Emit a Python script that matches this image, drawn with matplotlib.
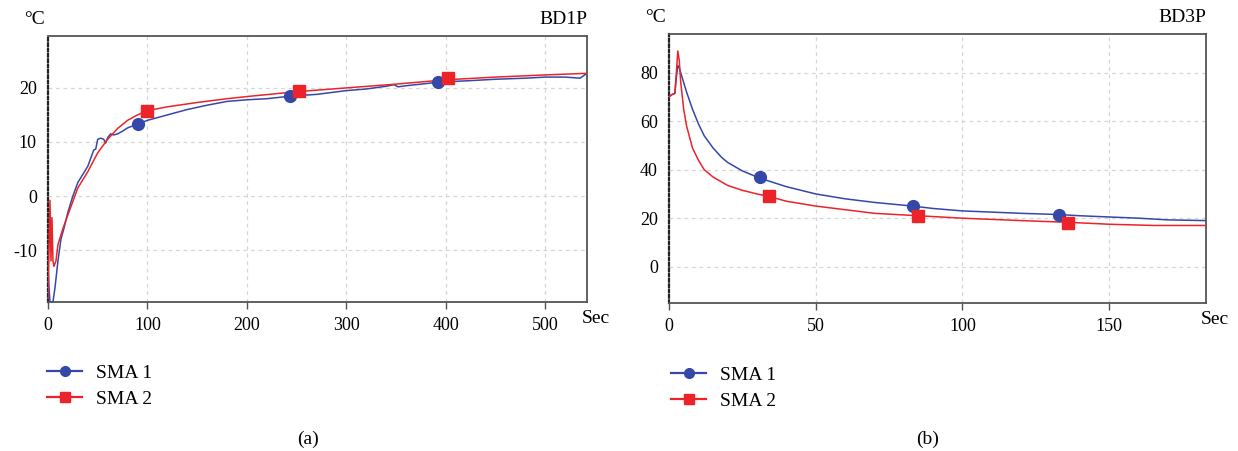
import numpy as np
import matplotlib
matplotlib.use('Agg')
import matplotlib.pyplot as plt
from matplotlib.lines import Line2D

plt.rcParams['font.family'] = ['Liberation Serif', 'DejaVu Serif']
plt.rcParams['axes.unicode_minus'] = False

# panel (a) BD1P
a_sma1_x = [0, 1, 2, 3, 5, 7, 10, 13, 16, 20, 25, 30, 35, 40, 44, 46, 48, 50, 53, 56, 58, 60, 63, 66,
            70, 75, 80, 90, 100, 120, 140, 160, 180, 200, 220, 245, 270, 300, 320, 340, 348, 352, 360,
            380, 395, 420, 450, 480, 500, 520, 535, 542]
a_sma1_y = [-13, -17, -19.6, -19.6, -19.6, -17, -12, -8, -6, -3, 0, 2.5, 4, 5.5, 7.5, 8.5, 8.7, 10.5,
            10.7, 10.5, 9.8, 10.8, 11.5, 11.3, 11.5, 12, 12.6, 13.3, 14, 15, 16, 16.8, 17.5, 17.8, 18,
            18.5, 18.8, 19.5, 19.8, 20.3, 20.6, 20.2, 20.4, 20.8, 21.1, 21.3, 21.6, 21.8, 22, 22, 21.8, 22.7]
a_sma2_x = [0, 1, 2, 3, 4, 5, 6, 8, 10, 15, 20, 25, 30, 40, 50, 60, 70, 80, 90, 100, 120, 150, 180,
            200, 250, 300, 350, 400, 450, 500, 542]
a_sma2_y = [-19, -10, -0.8, -12, -4, -12, -13, -12, -9, -6, -3.5, -1, 1.5, 4.5, 8, 10.5, 12.5, 14,
            15, 15.8, 16.5, 17.3, 18, 18.4, 19.3, 20, 20.7, 21.5, 22, 22.4, 22.7]
a_mk1_x = [90, 243, 392]
a_mk1_y = [13.3, 18.5, 21.1]
a_mk2_x = [100, 252, 402]
a_mk2_y = [15.8, 19.4, 21.8]

# panel (b) BD3P
b_sma1_x = [0, 1, 2, 2.5, 3, 3.5, 4, 5, 6, 8, 10, 12, 15, 18, 20, 25, 31, 40, 50, 60, 70, 83, 90,
            100, 110, 120, 133, 140, 150, 160, 170, 183]
b_sma1_y = [70, 71, 71.5, 78, 83, 82, 80, 76, 72, 65, 59, 54, 49, 45, 43, 39.5, 36.5, 33, 30, 28,
            26.5, 25, 24, 23, 22.5, 22, 21.5, 21, 20.5, 20, 19.3, 19]
b_sma2_x = [0, 1, 2, 2.5, 3, 3.5, 4, 5, 6, 8, 10, 12, 15, 20, 25, 30, 34, 40, 50, 60, 70, 85, 100,
            120, 136, 150, 165, 183]
b_sma2_y = [70, 71, 71.5, 80, 89, 85, 76, 65, 58, 49, 44, 40, 37, 33.5, 31.5, 30, 29, 27, 25, 23.5,
            22, 21, 20, 19, 18.3, 17.5, 17, 17]
b_mk1_x = [31, 83, 133]
b_mk1_y = [36.8, 25, 21.5]
b_mk2_x = [34, 85, 136]
b_mk2_y = [29, 21, 18.2]

labels = ['SMA 1', 'SMA 2']
blue = '#3548a8'
red = '#ec2328'
W, H = 1238, 451

fig = plt.figure(figsize=(W / 100, H / 100), dpi=100)


def panel(rect, xs, ys, mks, xlim, ylim, xticks, yticks, title, caption, leg_xy):
    ax = fig.add_axes(rect)
    ax.plot(xs[0], ys[0], color=blue, lw=1.1, zorder=3)
    ax.plot(xs[1], ys[1], color=red, lw=1.1, zorder=3)
    ax.plot(mks[0][0], mks[0][1], 'o', color=blue, ms=8.5, zorder=4)
    ax.plot(mks[1][0], mks[1][1], 's', color=red, ms=8, zorder=4)
    ax.set_xlim(*xlim)
    ax.set_ylim(*ylim)
    ax.set_xticks(xticks)
    ax.set_yticks(yticks)
    ax.tick_params(axis='x', length=5, width=1, color='#555555', pad=6, labelsize=13)
    ax.tick_params(axis='y', length=0, pad=8, labelsize=13)
    for t in xticks[1:]:
        ax.axvline(t, color='#d6d6d6', lw=0.9, ls=(0, (3, 3)), zorder=1)
    for t in yticks:
        ax.axhline(t, color='#d6d6d6', lw=0.9, ls=(0, (3, 3)), zorder=1)
    for s in ['top', 'right', 'bottom']:
        ax.spines[s].set_color('#555555')
        ax.spines[s].set_linewidth(1.3)
    ax.spines['left'].set_color('#222222')
    ax.spines['left'].set_linewidth(1.6)
    ax.spines['left'].set_linestyle((0, (1.2, 1.2)))
    ax.text(-0.005, 1.03, '°C', transform=ax.transAxes, ha='right', va='bottom', fontsize=14)
    ax.text(1.0, 1.03, title, transform=ax.transAxes, ha='right', va='bottom', fontsize=14)
    ax.text(0.99, -0.03, 'Sec', transform=ax.transAxes, ha='left', va='top', fontsize=14)
    handles = [Line2D([], [], color=blue, lw=1.6, marker='o', ms=7),
               Line2D([], [], color=red, lw=1.6, marker='s', ms=6.5)]
    fig.legend(handles, labels, loc='upper left', bbox_to_anchor=leg_xy, frameon=False,
               fontsize=14, handlelength=1.8, handletextpad=0.7, labelspacing=0.45,
               borderpad=0, borderaxespad=0)
    fig.text(rect[0] + rect[2] / 2 - 0.008, 1 - 439 / H, caption, ha='center', va='center', fontsize=14)
    return ax


panel([48 / W, 1 - 302 / H, 539 / W, 266 / H], [a_sma1_x, a_sma2_x], [a_sma1_y, a_sma2_y],
      [(a_mk1_x, a_mk1_y), (a_mk2_x, a_mk2_y)], (0, 542), (-19.6, 29.6),
      [0, 100, 200, 300, 400, 500], [-10, 0, 10, 20], 'BD1P', '(a)', (47 / W, 1 - 364 / H))
panel([669 / W, 1 - 303 / H, 537 / W, 269 / H], [b_sma1_x, b_sma2_x], [b_sma1_y, b_sma2_y],
      [(b_mk1_x, b_mk1_y), (b_mk2_x, b_mk2_y)], (0, 183), (-15, 96),
      [0, 50, 100, 150], [0, 20, 40, 60, 80], 'BD3P', '(b)', (671 / W, 1 - 366 / H))

plt.savefig('out.png', dpi=100)
